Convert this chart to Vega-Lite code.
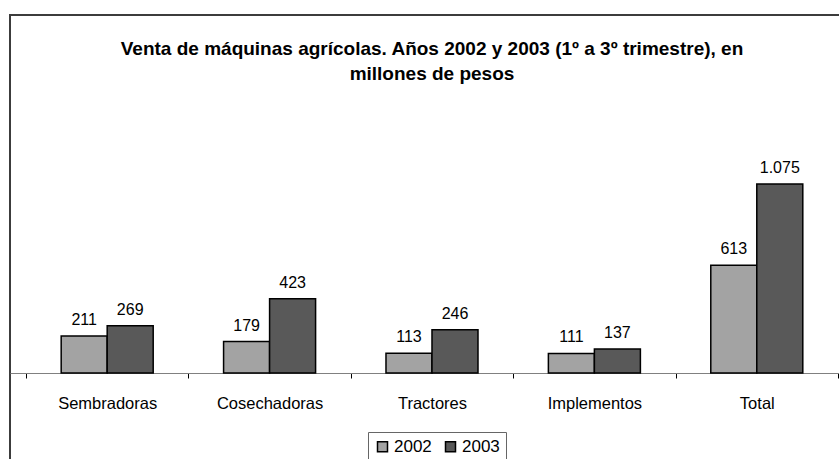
{
  "$schema": "https://vega.github.io/schema/vega-lite/v6.json",
  "autosize": {"type": "none"},
  "width": 840,
  "height": 465,
  "padding": {"left": 10, "top": 15, "right": 0, "bottom": 0},
  "background": "white",
  "title": {
    "text": ["Venta de máquinas agrícolas. Años 2002 y 2003 (1º a 3º trimestre), en", "millones de pesos"],
    "font": "Liberation Sans",
    "fontSize": 19,
    "fontWeight": "bold",
    "color": "black",
    "anchor": "middle",
    "frame": "group",
    "baseline": "alphabetic",
    "offset": -84,
    "lineHeight": 25,
    "dx": 2
  },
  "data": {
    "values": [
      {"cat": "Sembradoras", "year": "2002", "value": 211, "label": "211"},
      {"cat": "Sembradoras", "year": "2003", "value": 269, "label": "269"},
      {"cat": "Cosechadoras", "year": "2002", "value": 179, "label": "179"},
      {"cat": "Cosechadoras", "year": "2003", "value": 423, "label": "423"},
      {"cat": "Tractores", "year": "2002", "value": 113, "label": "113"},
      {"cat": "Tractores", "year": "2003", "value": 246, "label": "246"},
      {"cat": "Implementos", "year": "2002", "value": 111, "label": "111"},
      {"cat": "Implementos", "year": "2003", "value": 137, "label": "137"},
      {"cat": "Total", "year": "2002", "value": 613, "label": "613"},
      {"cat": "Total", "year": "2003", "value": 1075, "label": "1.075"}
    ]
  },
  "encoding": {
    "x": {
      "field": "cat",
      "type": "nominal",
      "sort": ["Sembradoras", "Cosechadoras", "Tractores", "Implementos", "Total"],
      "scale": {"paddingInner": 0, "paddingOuter": 0.0862, "align": 0.571},
      "axis": {
        "title": null,
        "orient": "bottom",
        "offset": -107,
        "domainColor": "#808080",
        "domainWidth": 1,
        "tickColor": "black",
        "tickSize": 5,
        "tickBand": "extent",
        "grid": false,
        "labelFont": "Liberation Sans",
        "labelFontSize": 16.5,
        "labelColor": "black",
        "labelPadding": 17,
        "labelAngle": 0
      }
    },
    "xOffset": {
      "field": "year",
      "type": "nominal",
      "scale": {"paddingInner": 0, "paddingOuter": 0.765}
    },
    "y": {
      "field": "value",
      "type": "quantitative",
      "scale": {"domain": [-608.6, 2036.4], "nice": false, "zero": false},
      "axis": null
    }
  },
  "layer": [
    {
      "mark": {"type": "bar", "stroke": "black", "strokeWidth": 1.5},
      "encoding": {
        "color": {
          "field": "year",
          "type": "nominal",
          "scale": {"domain": ["2002", "2003"], "range": ["#A3A3A3", "#595959"]},
          "legend": {
            "title": null,
            "orient": "none",
            "legendX": 358,
            "legendY": 417,
            "direction": "horizontal",
            "padding": 6,
            "strokeColor": "#666666",
            "fillColor": "white",
            "symbolType": "square",
            "symbolSize": 100,
            "symbolStrokeColor": "black",
            "symbolStrokeWidth": 1.5,
            "symbolOpacity": 1,
            "labelFont": "Liberation Sans",
            "labelFontSize": 17,
            "labelColor": "black",
            "labelOffset": 3,
            "columnSpacing": 10
          }
        }
      }
    },
    {
      "mark": {
        "type": "text",
        "dy": -11,
        "baseline": "alphabetic",
        "font": "Liberation Sans",
        "fontSize": 16,
        "color": "black"
      },
      "encoding": {
        "text": {"field": "label", "type": "nominal"}
      }
    }
  ],
  "config": {
    "view": {"stroke": "#3c3c3c", "strokeWidth": 2}
  }
}
